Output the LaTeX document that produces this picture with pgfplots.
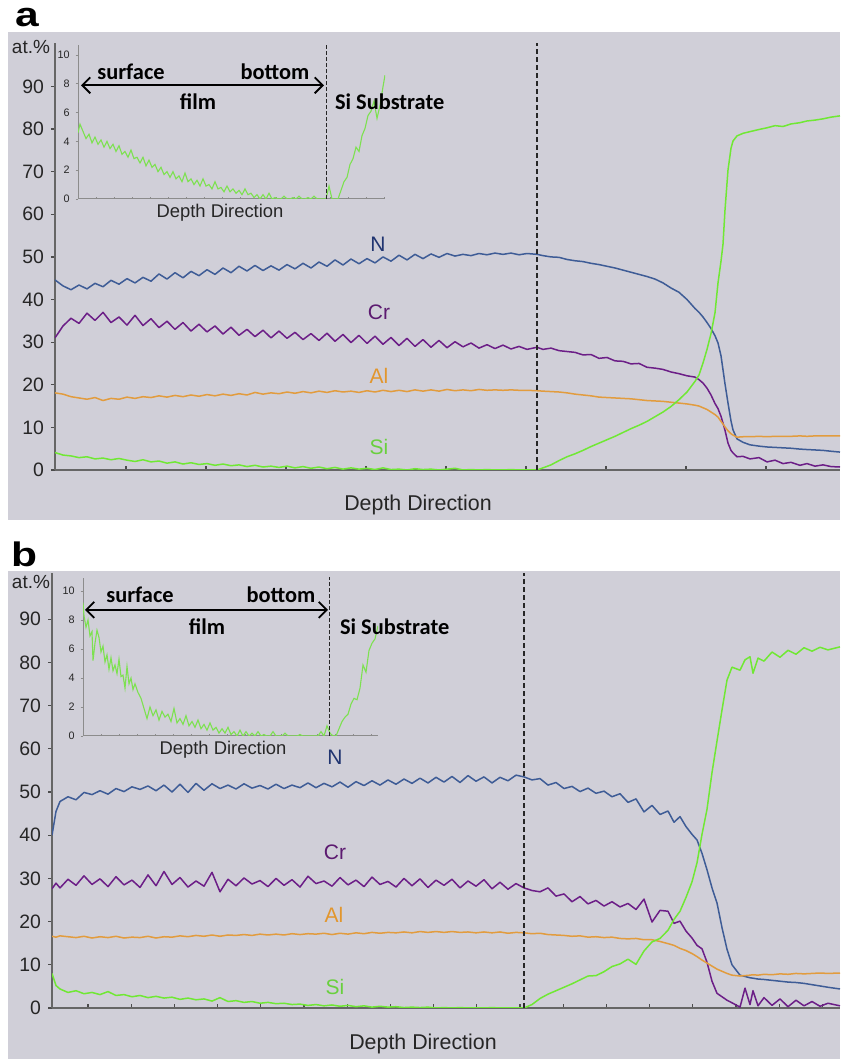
\documentclass[border=0pt]{standalone}
\usepackage{pgfplots}
\pgfplotsset{compat=1.18}
\usepackage{pgfplotstable}
\usepackage{fontspec}
\setmainfont{Liberation Sans}
\newfontfamily\calib{Carlito}
\usetikzlibrary{arrows.meta}

\definecolor{bg}{RGB}{208,207,216}
\definecolor{cN}{RGB}{62,92,150}
\definecolor{cCr}{RGB}{108,30,135}
\definecolor{cAl}{RGB}{226,156,62}
\definecolor{cSi}{RGB}{112,232,52}
\definecolor{cSiIn}{RGB}{125,225,80}
\definecolor{tN}{RGB}{32,52,112}
\definecolor{tCr}{RGB}{92,26,112}
\definecolor{tAl}{RGB}{226,150,45}
\definecolor{tSi}{RGB}{105,208,62}

% panel a, x = pixel - 55
\pgfplotstableread{
x N Cr Al Si
0 44.6 31.0 18.1 4.1
8 43.2 33.8 17.8 3.5
16 42.3 35.6 17.2 3.3
24 43.4 34.4 16.9 2.9
32 42.5 36.8 16.6 3.1
40 43.8 35.1 17.0 2.6
48 43.0 37.0 16.3 2.8
56 44.5 34.6 16.8 2.4
64 43.6 35.9 16.6 2.7
72 44.9 34.0 17.1 2.3
80 43.9 36.3 16.8 2.0
88 45.2 33.9 17.2 2.4
96 44.3 35.5 17.0 1.9
104 46.0 33.4 17.4 2.1
112 44.8 34.9 17.1 1.6
120 46.3 33.0 17.5 1.9
128 45.1 34.6 17.2 1.4
136 46.6 32.6 17.6 1.7
144 45.6 34.2 17.3 1.3
152 47.0 32.4 17.7 1.5
160 45.9 33.8 17.4 1.1
168 47.4 31.9 17.8 1.4
176 46.3 33.5 17.5 1.0
184 47.8 31.6 17.9 1.2
192 46.7 33.0 17.6 0.8
200 48.0 31.3 18.2 1.1
208 46.8 32.8 17.8 0.7
216 47.9 31.0 18.1 0.9
224 46.9 32.6 17.9 0.6
232 48.2 30.9 18.3 0.9
240 47.2 32.3 18.0 0.5
248 48.5 30.6 18.4 0.8
256 47.4 32.0 18.1 0.4
264 48.8 30.4 18.5 0.7
272 47.8 32.1 18.2 0.3
280 49.3 30.2 18.6 0.6
288 48.1 31.8 18.3 0.2
296 49.5 29.9 18.5 0.5
304 48.4 31.6 18.2 0.2
312 49.6 29.7 18.6 0.4
320 48.6 31.4 18.3 0.1
328 50.0 29.5 18.7 0.5
336 49.0 31.1 18.4 0.1
344 50.4 29.2 18.7 0.2
352 49.3 30.9 18.4 0.0
360 50.6 29.0 18.8 0.3
368 49.6 30.6 18.5 0.1
376 50.7 28.8 18.8 0.2
384 49.9 30.4 18.5 0.0
392 50.8 28.7 18.9 0.2
400 50.2 30.1 18.6 0.4
408 50.6 28.9 18.8 0.0
416 50.3 29.8 18.6 0.1
424 50.8 28.6 18.9 0.0
432 50.5 29.4 18.7 0.1
440 50.9 28.5 18.8 0.0
448 50.6 29.3 18.7 0.0
456 50.9 28.4 18.8 0.1
464 50.5 29.0 18.7 0.0
472 50.8 28.3 18.7 0.0
482 50.6 28.8 18.6 0.0
488 50.3 28.3 18.5 0.5
496 50.0 28.6 18.4 1.2
504 49.9 28.0 18.3 2.2
512 49.4 27.8 18.1 3.1
520 49.1 27.6 17.8 3.8
528 48.9 27.0 17.6 4.6
536 48.5 27.1 17.4 5.5
544 48.2 26.2 17.1 6.3
552 47.8 26.4 17.0 7.1
560 47.4 25.6 16.9 7.9
568 46.9 25.5 16.8 8.8
576 46.4 24.9 16.7 9.7
584 45.9 25.0 16.5 10.5
592 45.4 24.1 16.3 11.4
600 44.8 23.9 16.2 12.5
608 43.9 23.6 16.1 13.6
616 42.7 23.0 15.9 14.9
624 41.7 22.6 15.7 16.5
632 40.0 22.1 15.5 18.3
640 37.9 21.8 15.2 20.8
644 37.0 21.2 15.0 22.3
648 35.9 20.4 14.6 25.1
652 34.6 19.2 14.2 28.3
656 33.2 17.6 13.6 32.0
660 31.5 15.6 13.0 36.9
663 29.8 14.4 12.4 43.9
666 26.8 12.6 11.4 49.0
668 23.5 11.0 10.8 53.0
670 20.2 9.3 10.1 61.0
673 15.7 6.3 9.2 70.4
676 11.5 4.6 8.5 75.5
678 9.4 4.0 8.2 77.2
682 7.3 3.1 7.7 78.4
688 6.5 3.2 7.8 79.0
695 5.9 2.6 7.8 79.4
704 5.6 2.9 7.9 79.9
712 5.4 1.9 7.8 80.3
720 5.3 2.3 7.9 80.8
728 5.2 1.5 7.9 80.6
736 5.1 1.8 7.9 81.2
745 4.9 1.1 8.0 81.5
752 4.8 1.5 7.9 81.9
760 4.7 0.9 8.0 82.1
768 4.6 1.2 8.0 82.4
776 4.4 0.8 8.0 82.8
785 4.2 0.7 8.0 83.1
}\taba

% panel b, x = pixel - 52
\pgfplotstableread{
x N Cr Al Si
0 40.0 27.6 16.6 8.0
4 45.5 28.9 16.4 5.2
8 47.8 27.8 16.7 4.4
16 48.9 29.8 16.5 3.6
24 48.2 28.4 16.3 4.0
32 49.9 30.6 16.6 3.3
40 49.4 28.6 16.2 3.6
48 50.3 29.9 16.5 3.1
56 49.5 28.1 16.3 3.8
64 50.8 30.4 16.6 2.9
72 50.1 28.5 16.2 3.1
80 51.2 29.6 16.4 2.6
88 50.6 27.9 16.3 2.9
96 51.4 30.8 16.6 2.4
104 50.3 28.3 16.2 2.7
112 51.6 31.6 16.5 2.3
120 50.0 28.6 16.4 2.5
128 51.8 30.2 16.7 2.0
136 49.9 28.0 16.5 2.3
144 52.0 29.4 16.8 1.9
152 50.4 28.2 16.6 2.1
160 51.9 31.4 16.9 1.6
168 50.8 26.9 16.6 2.4
176 51.6 29.8 16.9 1.5
184 50.7 28.3 16.8 1.7
192 51.9 30.1 17.0 1.3
200 50.9 28.7 16.8 1.5
208 51.5 29.5 17.1 1.1
216 50.7 28.1 16.9 1.3
224 51.8 30.0 17.1 1.0
232 50.8 28.4 16.9 1.1
240 51.6 29.7 17.2 0.8
248 51.0 28.0 17.0 0.9
256 52.1 30.5 17.2 0.6
264 51.0 28.8 17.1 0.8
272 52.0 29.4 17.3 0.5
280 51.2 28.2 17.0 0.7
288 52.3 30.2 17.3 0.4
296 51.1 28.5 17.1 0.6
304 52.4 29.6 17.4 0.3
312 51.5 28.1 17.2 0.5
320 52.6 30.3 17.5 0.2
328 51.6 28.6 17.3 0.4
336 52.8 29.3 17.5 0.2
344 51.8 28.0 17.4 0.3
352 53.0 30.0 17.6 0.1
360 52.0 28.3 17.4 0.2
368 53.2 29.9 17.7 0.1
376 52.1 27.9 17.5 0.2
384 53.4 29.6 17.7 0.0
392 52.3 28.4 17.5 0.1
400 53.6 29.8 17.7 0.0
408 52.2 27.8 17.5 0.1
416 53.8 29.4 17.6 0.0
424 52.5 28.2 17.4 0.0
432 53.5 29.7 17.6 0.0
440 52.1 27.6 17.4 0.1
448 53.4 29.1 17.6 0.0
456 52.6 27.5 17.3 0.0
464 53.9 28.8 17.5 0.0
472 53.5 27.8 17.4 0.0
480 52.8 27.2 17.2 0.8
488 53.1 26.9 17.3 2.2
496 51.6 27.8 17.0 3.2
504 52.2 25.9 16.9 4.0
512 50.8 26.4 16.8 4.8
520 51.3 24.6 16.6 5.6
528 50.1 25.8 16.7 6.5
536 50.9 24.1 16.4 7.4
544 49.7 24.9 16.5 7.5
552 50.2 23.6 16.3 8.4
560 48.9 24.6 16.4 9.6
568 49.6 23.4 16.1 10.2
576 47.6 24.2 16.0 11.3
584 48.4 22.8 16.1 10.1
592 45.4 25.2 15.8 13.2
600 46.9 19.9 15.8 15.3
608 44.8 22.6 15.4 16.1
616 45.6 22.4 14.9 18.0
622 43.0 19.6 14.5 20.5
628 44.3 20.1 13.8 22.4
634 42.0 17.8 13.3 25.6
640 40.2 16.2 12.6 29.2
645 38.9 14.5 11.9 33.6
650 35.8 13.7 11.1 40.2
655 32.0 10.6 10.4 46.0
660 27.8 6.2 9.7 54.5
665 24.3 3.4 9.0 61.8
670 18.6 2.6 8.5 69.0
675 13.6 1.8 8.0 75.9
680 10.0 1.2 7.6 78.9
688 7.6 0.2 7.4 78.2
693 7.3 4.6 7.5 80.6
698 7.0 0.8 7.6 81.3
701 6.9 4.0 7.7 77.5
706 6.7 0.5 7.6 81.0
712 6.6 2.4 7.8 80.3
720 6.4 0.6 7.7 82.4
728 6.2 2.1 7.9 81.2
736 6.0 0.3 7.8 82.8
744 5.9 1.8 8.0 81.9
752 5.7 0.5 7.9 83.4
760 5.4 1.5 8.0 82.6
768 5.1 0.4 8.1 83.5
776 4.8 1.1 8.0 82.9
788 4.4 0.5 8.1 83.6
}\tabb

% inset a, x = pixel - 78
\pgfplotstableread{
x Si
0 4.6
2 5.2
5 4.7
8 4.2
11 4.5
14 3.9
17 4.3
20 3.8
23 4.1
26 3.6
29 4.0
32 3.5
35 3.8
38 3.3
41 3.7
44 3.1
47 3.3
50 2.9
53 3.4
56 2.8
59 2.9
62 2.5
65 2.9
68 2.3
71 2.7
74 2.2
77 2.4
80 1.9
83 2.2
86 1.7
89 1.9
92 1.5
95 1.9
98 1.4
101 1.6
104 1.2
107 1.8
110 1.2
113 1.4
116 1.0
119 1.3
122 0.9
125 1.4
128 0.9
131 1.0
134 0.7
137 1.2
140 0.7
143 0.8
146 0.5
149 0.9
152 0.5
155 0.7
158 0.4
161 0.6
164 0.3
167 0.7
170 0.3
173 0.4
176 0.1
179 0.3
182 0.0
185 0.3
188 0.0
191 0.4
194 0.0
197 0.1
200 0.0
203 0.0
206 0.2
209 0.0
212 0.0
215 0.1
218 0.0
221 0.2
224 0.0
227 0.0
230 0.1
233 0.0
236 0.2
239 0.0
242 0.0
245 0.0
248 0.0
251 0.9
254 0.0
257 0.0
260 0.0
263 0.6
266 1.2
269 1.5
272 2.4
275 2.8
278 3.6
281 3.3
284 4.4
287 4.9
290 5.8
293 6.1
296 6.8
299 5.6
302 6.5
305 7.8
307 8.6
}\insa

% inset b, x = pixel - 83
\pgfplotstableread{
x Si
0 9.2
1 8.3
3 7.5
5 8.0
7 6.9
9 7.2
10 5.2
12 6.4
14 7.3
16 6.8
18 5.8
20 6.2
22 5.1
24 5.6
26 4.6
28 5.4
30 4.5
32 4.9
34 4.3
36 5.3
38 4.1
40 4.2
42 3.3
44 4.8
46 3.6
48 4.0
50 3.2
52 3.6
55 3.0
58 2.6
61 1.9
64 1.2
67 2.0
70 1.4
73 1.8
76 1.1
79 1.7
82 1.3
85 1.5
88 1.0
91 1.9
94 0.9
97 1.2
100 0.8
103 1.4
106 0.7
109 1.0
112 0.6
115 1.1
118 0.5
121 0.8
124 0.4
127 0.9
130 0.4
133 0.6
136 0.2
139 0.5
142 0.2
145 0.6
148 0.1
151 0.3
154 0.0
157 0.4
160 0.0
163 0.3
166 0.0
169 0.2
172 0.0
175 0.3
178 0.0
181 0.1
184 0.0
187 0.0
190 0.3
193 0.0
196 0.0
199 0.0
202 0.2
205 0.0
208 0.0
211 0.0
214 0.0
217 0.1
220 0.0
223 0.0
226 0.0
229 0.0
232 0.0
235 0.0
238 0.3
241 0.0
244 0.7
247 0.2
250 0.0
253 0.0
256 0.5
259 1.0
262 1.3
265 1.5
268 2.2
271 2.6
274 2.5
277 3.3
280 4.9
283 4.4
286 5.9
289 6.4
292 6.7
295 7.6
}\insb

\pgfplotsset{
  mainax/.style={
    scale only axis, anchor=south west,
    axis lines*=left, ymin=0,
    axis line style={black!60, line width=0.7pt},
    ytick={0,10,...,90}, xticklabels={},
    xtick align=inside, ytick align=outside,
    major tick length=2pt,
    tick style={black!70, line width=0.6pt},
    yticklabel style={font=\fontsize{9.7}{10}\selectfont, text=black!85},
    /pgf/number format/assume math mode=true,
  },
  insax/.style={
    scale only axis, anchor=south west,
    axis lines*=left, ymin=0,
    axis line style={black!45, line width=0.5pt},
    ytick={0,2,...,10}, xticklabels={},
    xtick align=inside, ytick align=outside,
    major tick length=1.2pt,
    tick style={black!45, line width=0.4pt},
    yticklabel style={font=\fontsize{5.4}{6}\selectfont, text=black!85, xshift=0.5pt},
    /pgf/number format/assume math mode=true,
  },
  curve/.style={line width=0.75pt, line join=round},
  vdash/.style={black!85, line width=0.6pt, dash pattern=on 2.6pt off 1.4pt},
}

\begin{document}
\begin{tikzpicture}
\useasboundingbox (0,0) rectangle (420pt,529.5pt);
\fill[bg] (4pt,269.5pt) rectangle (420pt,513.5pt);
\fill[bg] (4pt,0pt) rectangle (420pt,244pt);

% ---------- panel a ----------
\begin{axis}[mainax, at={(27.5pt,294.5pt)}, width=392.5pt, height=213.5pt,
  xmin=0, xmax=785, ymax=100.2, xtick={71,151,...,791}]
\addplot[curve, cN] table[x=x, y=N] {\taba};
\addplot[curve, cCr] table[x=x, y=Cr] {\taba};
\addplot[curve, cAl] table[x=x, y=Al] {\taba};
\addplot[curve, cSi] table[x=x, y=Si] {\taba};
\addplot[vdash] coordinates {(482,0) (482,100.2)};
\end{axis}

\begin{axis}[insax, at={(39pt,430pt)}, width=153.5pt, height=77pt,
  xmin=0, xmax=307, ymax=10.7, xtick={0,18,...,306}]
\addplot[line width=0.55pt, cSiIn] table[x=x, y=Si] {\insa};
\addplot[vdash, line width=0.5pt, dash pattern=on 2pt off 1pt] coordinates {(248,0) (248,10.8)};
\draw[{Straight Barb[length=4pt,width=8pt]}-{Straight Barb[length=4pt,width=8pt]}, line width=0.9pt]
  (axis cs:3,7.9) -- (axis cs:246,7.9);
\end{axis}

% ---------- panel b ----------
\begin{axis}[mainax, at={(26pt,25.5pt)}, width=394pt, height=217.5pt,
  xmin=0, xmax=788, ymax=100.7, xtick={36,79.2,...,790}]
\addplot[curve, cN] table[x=x, y=N] {\tabb};
\addplot[curve, cCr] table[x=x, y=Cr] {\tabb};
\addplot[curve, cAl] table[x=x, y=Al] {\tabb};
\addplot[curve, cSi] table[x=x, y=Si] {\tabb};
\addplot[vdash] coordinates {(472,0) (472,100.7)};
\end{axis}

\begin{axis}[insax, at={(41.5pt,161.5pt)}, width=147.5pt, height=79pt,
  xmin=0, xmax=295, ymax=10.9, xtick={0,18,...,294}]
\addplot[line width=0.55pt, cSiIn] table[x=x, y=Si] {\insb};
\addplot[vdash, line width=0.5pt, dash pattern=on 2pt off 1pt] coordinates {(246,0) (246,11)};
\draw[{Straight Barb[length=4pt,width=8pt]}-{Straight Barb[length=4pt,width=8pt]}, line width=0.9pt]
  (axis cs:2,8.7) -- (axis cs:245,8.7);
\end{axis}

% ---------- text ----------
\node[anchor=base, font=\fontsize{17}{17}\selectfont\bfseries, xscale=1.25] at (13.5pt,516pt) {a};
\node[anchor=base, font=\fontsize{17}{17}\selectfont\bfseries, xscale=1.25] at (12pt,246pt) {b};

\node[font=\fontsize{9.5}{10}\selectfont, text=black!85] at (15.5pt,506pt) {at.\%};
\node[font=\fontsize{9.5}{10}\selectfont, text=black!85] at (15.5pt,238.5pt) {at.\%};

\node[anchor=base, font=\fontsize{10.7}{11}\selectfont, text=black!85] at (209pt,274pt) {Depth Direction};
\node[anchor=base, font=\fontsize{10.7}{11}\selectfont, text=black!85] at (211.5pt,5pt) {Depth Direction};

\node[anchor=base, font=\fontsize{9.2}{10}\selectfont, text=black!85] at (110pt,420.5pt) {Depth Direction};
\node[anchor=base, font=\fontsize{9.2}{10}\selectfont, text=black!85] at (111.5pt,152pt) {Depth Direction};

\begin{scope}[every node/.style={font=\calib\fontsize{11.2}{12}\selectfont\bfseries}]
\node[anchor=base] at (65.5pt,489.5pt) {surface};
\node[anchor=base] at (137.5pt,489.5pt) {bottom};
\node[anchor=base] at (99pt,474.5pt) {film};
\node[anchor=base west] at (164pt,474.5pt) {Si Substrate};
\node[anchor=base] at (70pt,228pt) {surface};
\node[anchor=base] at (140.5pt,228pt) {bottom};
\node[anchor=base] at (103.5pt,212pt) {film};
\node[anchor=base west] at (166.5pt,212pt) {Si Substrate};
\end{scope}

\begin{scope}[every node/.style={font=\fontsize{10.5}{11}\selectfont}]
\node[text=tN] at (189pt,407.5pt) {N};
\node[text=tCr] at (189.5pt,373.5pt) {Cr};
\node[text=tAl] at (189.5pt,341.5pt) {Al};
\node[text=tSi] at (189.5pt,306pt) {Si};
\node[text=tN] at (167.5pt,151pt) {N};
\node[text=tCr] at (167.5pt,103.5pt) {Cr};
\node[text=tAl] at (167pt,72pt) {Al};
\node[text=tSi] at (167.5pt,36pt) {Si};
\end{scope}
\end{tikzpicture}
\end{document}
